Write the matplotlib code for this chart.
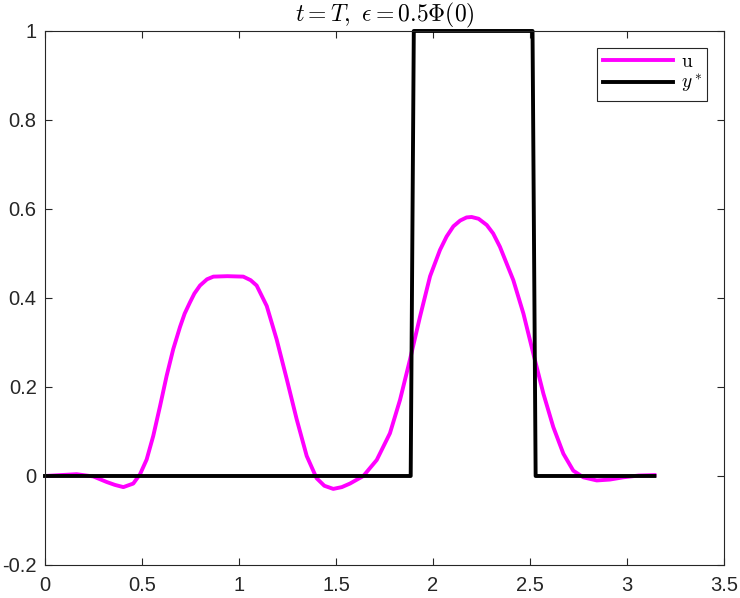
import matplotlib
matplotlib.use('Agg')
import matplotlib.pyplot as plt

# target y* (step) and control u at final time
x_star = [0.0, 1.885, 1.901, 2.513, 2.529, 3.1416]
y_star = [0.0, 0.0, 1.0, 1.0, 0.0, 0.0]

x_u = [0.0, 0.08, 0.163, 0.249, 0.318, 0.36, 0.404, 0.455, 0.49, 0.524, 0.558,
       0.593, 0.627, 0.661, 0.696, 0.72, 0.747, 0.77, 0.799, 0.835, 0.868, 0.94,
       1.022, 1.06, 1.091, 1.143, 1.194, 1.246, 1.297, 1.349, 1.40, 1.44, 1.486,
       1.53, 1.572, 1.641, 1.71, 1.778, 1.83, 1.881, 1.933, 1.985, 2.036, 2.07,
       2.105, 2.14, 2.173, 2.199, 2.235, 2.277, 2.31, 2.345, 2.414, 2.466, 2.517,
       2.569, 2.62, 2.672, 2.723, 2.775, 2.844, 2.912, 2.98, 3.06, 3.1416]
u = [0.0, 0.002, 0.004, -0.001, -0.0135, -0.02, -0.025, -0.017, 0.004, 0.037, 0.09,
     0.157, 0.225, 0.285, 0.335, 0.365, 0.39, 0.41, 0.428, 0.442, 0.448, 0.449,
     0.448, 0.44, 0.428, 0.382, 0.307, 0.218, 0.128, 0.045, -0.005, -0.022, -0.029,
     -0.025, -0.017, 0.0, 0.036, 0.096, 0.171, 0.261, 0.358, 0.449, 0.508, 0.538,
     0.561, 0.574, 0.581, 0.582, 0.578, 0.564, 0.545, 0.515, 0.44, 0.365, 0.275,
     0.185, 0.11, 0.05, 0.012, -0.003, -0.01, -0.008, -0.003, 0.001, 0.002]

xticks = [0, 0.5, 1, 1.5, 2, 2.5, 3, 3.5]
xlabels = ['0', '0.5', '1', '1.5', '2', '2.5', '3', '3.5']
yticks = [-0.2, 0, 0.2, 0.4, 0.6, 0.8, 1]
ylabels = ['-0.2', '0', '0.2', '0.4', '0.6', '0.8', '1']

plt.rcParams['font.family'] = ['Liberation Sans', 'DejaVu Sans']
plt.rcParams['mathtext.fontset'] = 'cm'

fig = plt.figure(figsize=(7.4, 5.98), dpi=100)
ax = fig.add_axes([0.0608, 0.0552, 0.9176, 0.893])

ax.plot(x_u, u, color='#FF00FF', lw=2.8, label='$\\mathrm{u}$',
        solid_joinstyle='round')
ax.plot(x_star, y_star, color='black', lw=2.8, label='$y^*$', clip_on=False)

ax.set_xlim(0, 3.5)
ax.set_ylim(-0.2, 1)
ax.set_xticks(xticks)
ax.set_xticklabels(xlabels)
ax.set_yticks(yticks)
ax.set_yticklabels(ylabels)
ax.tick_params(direction='in', top=True, right=True, length=5, width=0.8,
               labelsize=14.5, colors='#262626', pad=8)
ax.tick_params(axis='y', pad=6)
for s in ax.spines.values():
    s.set_color('#262626')
    s.set_linewidth(0.8)

ax.set_title('$t=T,\\ \\epsilon=0.5\\Phi(0)$', fontsize=17, pad=7)

leg = ax.legend(loc='upper right', fontsize=14, handlelength=3.6, fancybox=False,
                edgecolor='#262626', framealpha=1, borderaxespad=0.85,
                bbox_to_anchor=(1, 1), labelspacing=0.1, borderpad=0.3,
                handletextpad=0.4)
leg.get_frame().set_linewidth(0.8)

fig.savefig('out.png', dpi=100)
